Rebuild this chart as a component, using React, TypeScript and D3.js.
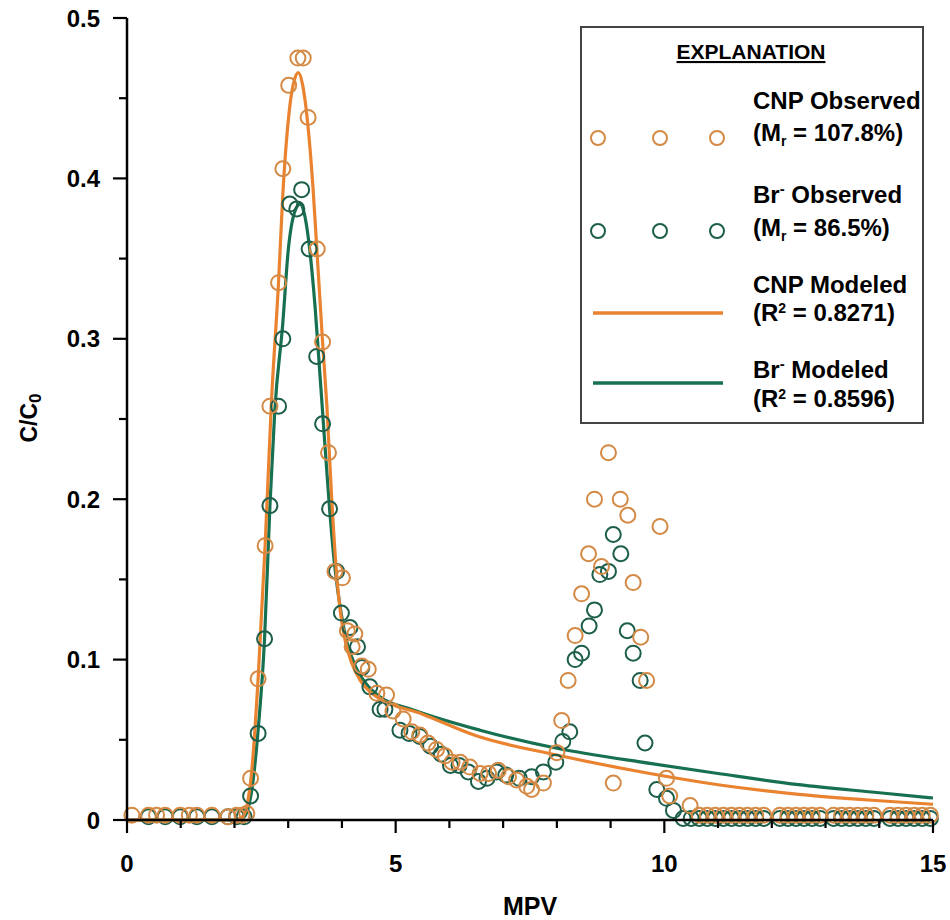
import React from "react";
import * as d3 from "d3";

// ---- data ----
const xTicks = [0, 5, 10, 15];
const yTicks = [0, 0.1, 0.2, 0.3, 0.4, 0.5];
const yTickLabels = ["0", "0.1", "0.2", "0.3", "0.4", "0.5"];

const cnpObserved: [number, number][] = [
  [0.09, 0.003], [0.40, 0.003], [0.55, 0.003], [0.71, 0.003], [0.99, 0.003], [1.16, 0.003],
  [1.30, 0.003], [1.58, 0.003], [1.88, 0.002], [2.04, 0.003], [2.14, 0.003], [2.23, 0.004],
  [2.30, 0.026], [2.44, 0.088], [2.57, 0.171], [2.66, 0.258], [2.82, 0.335], [2.90, 0.406],
  [3.01, 0.458], [3.18, 0.475], [3.28, 0.475], [3.37, 0.438], [3.54, 0.356], [3.64, 0.298],
  [3.75, 0.229], [3.87, 0.155], [4.01, 0.151], [4.10, 0.118], [4.24, 0.116], [4.19, 0.108],
  [4.37, 0.096], [4.49, 0.094], [4.65, 0.079], [4.83, 0.078], [4.95, 0.068], [5.14, 0.063],
  [5.30, 0.055], [5.45, 0.053], [5.60, 0.048], [5.76, 0.044], [5.92, 0.040], [6.05, 0.036],
  [6.20, 0.036], [6.38, 0.033], [6.57, 0.029], [6.73, 0.029], [6.91, 0.031], [7.10, 0.027],
  [7.25, 0.025], [7.44, 0.021], [7.53, 0.019], [7.75, 0.023], [8.00, 0.042], [8.09, 0.062],
  [8.21, 0.087], [8.34, 0.115], [8.46, 0.141], [8.59, 0.166], [8.70, 0.200], [8.83, 0.158],
  [8.96, 0.229], [9.05, 0.023], [9.18, 0.200], [9.32, 0.190], [9.42, 0.148], [9.56, 0.114],
  [9.67, 0.087], [9.92, 0.183], [10.04, 0.026], [10.10, 0.015], [10.48, 0.009],
  [10.65, 0.003], [10.80, 0.003], [10.95, 0.003], [11.10, 0.003], [11.25, 0.003], [11.40, 0.003],
  [11.55, 0.003], [11.70, 0.003], [11.85, 0.003], [12.15, 0.003], [12.30, 0.003], [12.45, 0.003],
  [12.60, 0.003], [12.75, 0.003], [12.90, 0.003], [13.15, 0.003], [13.30, 0.003], [13.45, 0.003],
  [13.60, 0.003], [13.75, 0.003], [13.90, 0.003], [14.20, 0.003], [14.35, 0.003], [14.50, 0.003],
  [14.65, 0.003], [14.80, 0.003], [14.95, 0.003],
];

const brObserved: [number, number][] = [
  [0.40, 0.002], [0.71, 0.002], [0.99, 0.002], [1.30, 0.002], [1.58, 0.002], [1.88, 0.002],
  [2.04, 0.002], [2.18, 0.002], [2.30, 0.015], [2.44, 0.054], [2.56, 0.113], [2.66, 0.196],
  [2.82, 0.258], [2.90, 0.300], [3.03, 0.384], [3.16, 0.381], [3.25, 0.393], [3.39, 0.356],
  [3.53, 0.289], [3.64, 0.247], [3.77, 0.194], [3.90, 0.155], [3.99, 0.129], [4.15, 0.120],
  [4.29, 0.108], [4.37, 0.095], [4.52, 0.083], [4.71, 0.069], [4.80, 0.069], [5.08, 0.056],
  [5.25, 0.054], [5.45, 0.052], [5.65, 0.046], [5.85, 0.041], [6.02, 0.034], [6.18, 0.034],
  [6.35, 0.030], [6.54, 0.024], [6.70, 0.026], [6.88, 0.030], [7.05, 0.028], [7.30, 0.026],
  [7.53, 0.027], [7.75, 0.030], [7.98, 0.036], [8.11, 0.049], [8.24, 0.055], [8.34, 0.100],
  [8.46, 0.104], [8.60, 0.121], [8.70, 0.131], [8.80, 0.153], [8.96, 0.155], [9.05, 0.178],
  [9.19, 0.166], [9.31, 0.118], [9.42, 0.104], [9.55, 0.087], [9.64, 0.048], [9.86, 0.019],
  [10.04, 0.0135], [10.17, 0.006], [10.35, 0.001], [10.50, 0.001], [10.65, 0.001], [10.80, 0.001],
  [10.95, 0.001], [11.10, 0.001], [11.25, 0.001], [11.40, 0.001], [11.55, 0.001], [11.70, 0.001],
  [11.85, 0.001], [12.15, 0.001], [12.30, 0.001], [12.45, 0.001], [12.60, 0.001], [12.75, 0.001],
  [12.90, 0.001], [13.15, 0.001], [13.30, 0.001], [13.45, 0.001], [13.60, 0.001], [13.75, 0.001],
  [13.90, 0.001], [14.20, 0.001], [14.35, 0.001], [14.50, 0.001], [14.65, 0.001], [14.80, 0.001],
  [14.95, 0.001],
];

const cnpModeled: [number, number][] = [
  [0, 0], [2.0, 0], [2.15, 0.002], [2.25, 0.012], [2.32, 0.03], [2.44, 0.088], [2.57, 0.171],
  [2.69, 0.262], [2.82, 0.335], [2.90, 0.390], [3.03, 0.445], [3.12, 0.462], [3.19, 0.466],
  [3.27, 0.458], [3.37, 0.432], [3.46, 0.395], [3.54, 0.352], [3.64, 0.298], [3.72, 0.258],
  [3.81, 0.200], [3.89, 0.158], [3.97, 0.130], [4.06, 0.112], [4.18, 0.098], [4.34, 0.087],
  [4.52, 0.080], [4.71, 0.0755], [5.5, 0.066], [6.5, 0.0525], [8.0, 0.0405], [9.73, 0.029],
  [11.0, 0.022], [12.5, 0.016], [14.0, 0.012], [15.0, 0.0098],
];

const brModeled: [number, number][] = [
  [0, 0], [2.0, 0], [2.18, 0.002], [2.26, 0.008], [2.31, 0.016], [2.44, 0.056], [2.56, 0.113],
  [2.66, 0.196], [2.75, 0.255], [2.90, 0.310], [3.00, 0.355], [3.13, 0.380], [3.22, 0.384],
  [3.30, 0.378], [3.37, 0.364], [3.50, 0.320], [3.59, 0.278], [3.66, 0.245], [3.77, 0.194],
  [3.87, 0.157], [3.99, 0.128], [4.10, 0.110], [4.25, 0.096], [4.45, 0.085], [4.70, 0.077],
  [5.33, 0.0686], [6.57, 0.056], [8.0, 0.0447], [9.73, 0.0353], [11.0, 0.029], [12.5, 0.022],
  [14.0, 0.017], [15.0, 0.0137],
];

const ORANGE_LINE = "#E9832F";
const ORANGE_PT = "#D48A45";
const GREEN_LINE = "#17704F";
const GREEN_PT = "#1D5E4B";
const FONT = "'Liberation Sans', Arial, sans-serif";

export default function App() {
  const W = 950, H = 920;
  const x = d3.scaleLinear().domain([0, 15]).range([127, 933]);
  const y = d3.scaleLinear().domain([0, 0.5]).range([820, 18]);
  const line = d3.line<[number, number]>()
    .x(d => x(d[0])).y(d => y(d[1]))
    .curve(d3.curveMonotoneX);

  const xMinor = d3.range(0, 16, 1);
  const yMinor = d3.range(0, 0.5001, 0.05);

  const legendCircleX = [598, 660, 717];

  return (
    <svg width={W} height={H} style={{ position: "absolute", left: 0, top: 0, background: "#fff" }}
      fontFamily={FONT}>
      <rect x={0} y={0} width={W} height={H} fill="#fff" />

      {/* modeled lines */}
      <path d={line(brModeled) || ""} fill="none" stroke={GREEN_LINE} strokeWidth={3.2} />
      <path d={line(cnpModeled) || ""} fill="none" stroke={ORANGE_LINE} strokeWidth={3.2} />

      {/* observed points */}
      {brObserved.map((d, i) => (
        <circle key={"b" + i} cx={x(d[0])} cy={y(d[1])} r={7.5} fill="none" stroke={GREEN_PT} strokeWidth={2} />
      ))}
      {cnpObserved.map((d, i) => (
        <circle key={"c" + i} cx={x(d[0])} cy={y(d[1])} r={7.5} fill="none" stroke={ORANGE_PT} strokeWidth={2} />
      ))}

      {/* axes */}
      <line x1={x(0)} x2={x(15)} y1={y(0)} y2={y(0)} stroke="#000" strokeWidth={2.5} />
      <line x1={x(0)} x2={x(0)} y1={y(0) + 1} y2={y(0.5)} stroke="#000" strokeWidth={2.5} />
      {xMinor.map(v => (
        <line key={"xt" + v} x1={x(v)} x2={x(v)} y1={y(0)} y2={y(0) + (v % 5 === 0 ? 13 : 8)}
          stroke="#000" strokeWidth={2.2} />
      ))}
      {yMinor.map((v, i) => (
        <line key={"yt" + i} x1={x(0)} x2={x(0) - (i % 2 === 0 ? 14 : 8)} y1={y(v)} y2={y(v)}
          stroke="#000" strokeWidth={2.2} />
      ))}
      {xTicks.map(v => (
        <text key={"xl" + v} x={x(v)} y={872} textAnchor="middle" fontSize={24} fontWeight="bold">{v}</text>
      ))}
      {yTicks.map((v, i) => (
        <text key={"yl" + i} x={100} y={y(v) + 8.5} textAnchor="end" fontSize={24} fontWeight="bold">{yTickLabels[i]}</text>
      ))}
      <text x={530} y={915} textAnchor="middle" fontSize={25} fontWeight="bold">MPV</text>
      <text transform="translate(37,418) rotate(-90)" textAnchor="middle" fontSize={23} fontWeight="bold">
        C/C<tspan fontSize={17} dy={4}>0</tspan>
      </text>

      {/* legend */}
      <rect x={581} y={27} width={342} height={396} fill="#fff" stroke="#444" strokeWidth={2} />
      <text x={751} y={59} textAnchor="middle" fontSize={21} fontWeight="bold" textDecoration="underline">EXPLANATION</text>

      {legendCircleX.map(cx => (
        <circle key={"lc" + cx} cx={cx} cy={138} r={7} fill="none" stroke={ORANGE_PT} strokeWidth={2} />
      ))}
      <text x={753} y={109} fontSize={24} fontWeight="bold">CNP Observed</text>
      <text x={753} y={141} fontSize={24} fontWeight="bold">
        (M<tspan fontSize={14} dy={5}>r</tspan><tspan dy={-5}> = 107.8%)</tspan>
      </text>

      {legendCircleX.map(cx => (
        <circle key={"lg" + cx} cx={cx} cy={231} r={7} fill="none" stroke={GREEN_PT} strokeWidth={2} />
      ))}
      <text x={753} y={203} fontSize={24} fontWeight="bold">
        Br<tspan fontSize={15} dy={-9}>-</tspan><tspan dy={9}> Observed</tspan>
      </text>
      <text x={753} y={236} fontSize={24} fontWeight="bold">
        (M<tspan fontSize={14} dy={5}>r</tspan><tspan dy={-5}> = 86.5%)</tspan>
      </text>

      <line x1={593} x2={723} y1={313} y2={313} stroke={ORANGE_LINE} strokeWidth={3.5} />
      <text x={753} y={293} fontSize={24} fontWeight="bold">CNP Modeled</text>
      <text x={753} y={321} fontSize={24} fontWeight="bold">
        (R<tspan fontSize={14} dy={-8}>2</tspan><tspan dy={8}> = 0.8271)</tspan>
      </text>

      <line x1={593} x2={723} y1={383} y2={383} stroke={GREEN_LINE} strokeWidth={3.5} />
      <text x={753} y={378} fontSize={24} fontWeight="bold">
        Br<tspan fontSize={15} dy={-9}>-</tspan><tspan dy={9}> Modeled</tspan>
      </text>
      <text x={753} y={407} fontSize={24} fontWeight="bold">
        (R<tspan fontSize={14} dy={-8}>2</tspan><tspan dy={8}> = 0.8596)</tspan>
      </text>
    </svg>
  );
}
